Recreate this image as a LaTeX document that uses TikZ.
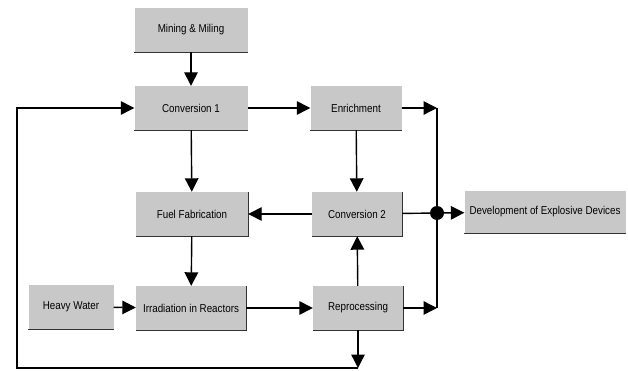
\documentclass[tikz,border=0pt]{standalone}
\usepackage{fontspec}
\setmainfont{Liberation Sans}[FakeStretch=0.86]
\usetikzlibrary{arrows.meta}
\definecolor{boxgray}{RGB}{200,200,200}
\begin{document}
\begin{tikzpicture}[x=1pt,y=-1pt,
  stage/.style={fill=boxgray,minimum height=44pt,inner sep=0pt,font=\fontsize{11.4}{13}\selectfont,
    append after command={\pgfextra{\draw[line width=0.8pt,black!80] (\tikzlastnode.north east) -- (\tikzlastnode.south east) -- (\tikzlastnode.south west);}}},
  flow/.style={line width=1.4pt,-{Triangle[length=13.5pt,width=13.5pt]}},
  link/.style={line width=1.4pt}]
  \useasboundingbox (0,0) rectangle (628,371);
  % process stages
  \node[stage,minimum width=113pt] (mining) at (191,30) {Mining \& Miling};
  \node[stage,minimum width=113pt] (conv1) at (191,108) {Conversion 1};
  \node[stage,minimum width=91pt] (enrich) at (356,108) {Enrichment};
  \node[stage,minimum width=112pt] (fuel) at (192,214) {Fuel Fabrication};
  \node[stage,minimum width=90pt] (conv2) at (357,214) {Conversion 2};
  \node[stage,minimum width=161pt,minimum height=42pt] (dev) at (545,212) {Development of Explosive Devices};
  \node[stage,minimum width=85pt] (heavy) at (71,307) {Heavy Water};
  \node[stage,minimum width=110pt] (irrad) at (191,308) {Irradiation in Reactors};
  \node[stage,minimum width=90pt] (reproc) at (358,308) {Reprocessing};
  % bus and loop points
  \coordinate (bustop) at (437,108);
  \coordinate (busbot) at (437,308);
  \coordinate (loopend) at (358,368);
  \coordinate (loopcorner) at (17,368);
  \node[circle,fill=black,inner sep=0pt,minimum size=14pt] (dot) at (437,213) {};
  % connectors
  \draw[flow] (mining) -- (conv1);
  \draw[flow] (conv1) -- (enrich);
  \draw[flow] (conv1) -- (fuel);
  \draw[flow] (enrich) -- (conv2);
  \draw[flow] (conv2) -- (fuel);
  \draw[flow] (fuel) -- (irrad);
  \draw[flow] (heavy) -- (irrad);
  \draw[flow] (irrad) -- (reproc);
  \draw[flow] (reproc) -- (conv2);
  \draw[flow] (enrich) -- (bustop);
  \draw[flow] (reproc) -- (busbot);
  \draw[link] (bustop) -- (busbot);
  \draw[link] (conv2) -- (dot);
  \draw[flow] (dot) -- (dev);
  \draw[flow] (reproc) -- (loopend);
  \draw[flow] (loopend) -- (loopcorner) |- (conv1);
\end{tikzpicture}
\end{document}
